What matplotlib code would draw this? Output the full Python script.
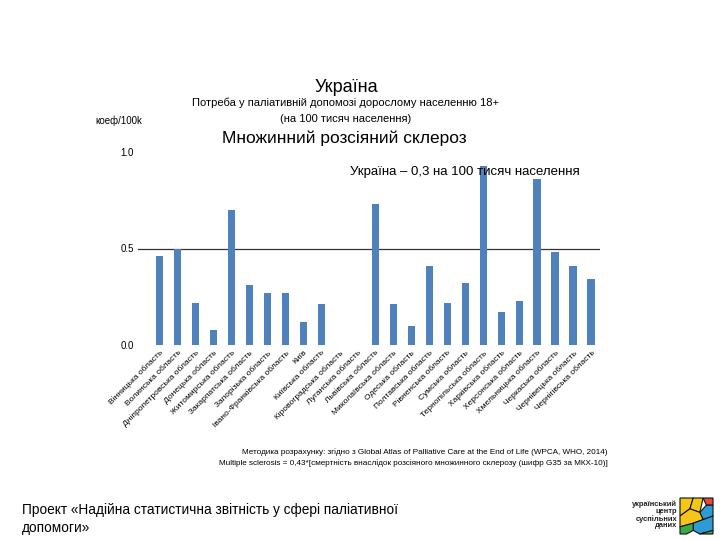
import numpy as np
import matplotlib.pyplot as plt
from matplotlib.patches import Polygon

plt.rcParams['font.family'] = ['Liberation Sans', 'DejaVu Sans']

regions = ['Вінницька область', 'Волинська область', 'Дніпропетровська область',
           'Донецька область', 'Житомирська область', 'Закарпатська область',
           'Запорізька область', 'Івано-Франківська область', 'Київ',
           'Київська область', 'Кіровоградська область', 'Луганська область',
           'Львівська область', 'Миколаївська область', 'Одеська область',
           'Полтавська область', 'Рівненська область', 'Сумська область',
           'Тернопільська область', 'Харківська область', 'Херсонська область',
           'Хмельницька область', 'Черкаська область', 'Чернівецька область',
           'Чернігівська область']
values = [0.46, 0.50, 0.22, 0.08, 0.70, 0.31, 0.27, 0.27, 0.12, 0.21,
          0.0, 0.0, 0.73, 0.21, 0.10, 0.41, 0.22, 0.32, 0.93, 0.17,
          0.23, 0.86, 0.48, 0.41, 0.34]
yticks = [0.0, 0.5, 1.0]
ytick_labels = ['0.0', '0.5', '1.0']

fig = plt.figure(figsize=(7.2, 5.4), dpi=100)
ax = fig.add_axes([138 / 720, 1 - 345 / 540, 462 / 720, 193 / 540])

x = np.arange(len(regions))
ax.bar(x, values, width=0.4, color='#4F81BD')
ax.axhline(0.5, color='#333333', lw=0.9, zorder=0)

ax.set_xlim(-1.2, 24.5)
ax.set_ylim(0, 1.0)
ax.set_yticks(yticks)
ax.set_yticklabels(ytick_labels, fontsize=7)
ax.set_xticks(x)
ax.set_xticklabels(regions, rotation=45, ha='right', rotation_mode='anchor', fontsize=6)
ax.tick_params(length=0, pad=3)
for s in ax.spines.values():
    s.set_visible(False)

# titles
fig.text(346 / 720, 1 - 88 / 540, 'Україна', ha='center', va='center', fontsize=13)
fig.text(346 / 720, 1 - 103 / 540, 'Потреба у паліативній допомозі дорослому населенню 18+',
         ha='center', va='center', fontsize=8)
fig.text(346 / 720, 1 - 119 / 540, '(на 100 тисяч населення)', ha='center', va='center', fontsize=8)
fig.text(344 / 720, 1 - 138 / 540, 'Множинний розсіяний склероз', ha='center', va='center', fontsize=12.5)
fig.text(350 / 720, 1 - 172 / 540, 'Україна – 0,3 на 100 тисяч населення', ha='left', va='center', fontsize=9.5)
fig.text(95 / 720, 1 - 121 / 540, 'коеф/100k', ha='left', va='center', fontsize=7)

# footnote
fig.text(608 / 720, 1 - 452 / 540,
         'Методика розрахунку: згідно з Global Atlas of Palliative Care at the End of Life (WPCA, WHO, 2014)',
         ha='right', va='center', fontsize=5.9)
fig.text(608 / 720, 1 - 463 / 540,
         'Multiple sclerosis = 0,43*[смертність внаслідок розсіяного множинного склерозу (шифр G35 за МКХ-10)]',
         ha='right', va='center', fontsize=5.9)

fig.text(22 / 720, 1 - 510 / 540, 'Проект «Надійна статистична звітність у сфері паліативної',
         ha='left', va='center', fontsize=9.8)
fig.text(22 / 720, 1 - 528 / 540, 'допомоги»', ha='left', va='center', fontsize=9.8)

# logo
for i, t in enumerate(['український', 'центр', 'суспільних', 'даних']):
    fig.text(677 / 720, 1 - (504 + i * 7.3) / 540, t, ha='right', va='center',
             fontsize=5.4, fontweight='bold', color='#222222')
lax = fig.add_axes([680 / 720, 1 - 534 / 540, 33 / 720, 36 / 540])
lax.set_xlim(0, 10)
lax.set_ylim(0, 10)
lax.axis('off')
pieces = [
    ([(0, 5), (3, 7), (4, 10), (0, 10)], '#F5C518'),
    ([(3, 7), (6, 6), (7, 10), (4, 10)], '#F5C518'),
    ([(7, 10), (8, 8), (10, 8), (10, 10)], '#E04B3A'),
    ([(6, 6), (8, 8), (10, 8), (10, 5), (7, 4)], '#2E9BD6'),
    ([(0, 5), (3, 7), (6, 6), (7, 4), (4, 3), (0, 2)], '#F5C518'),
    ([(4, 3), (7, 4), (10, 5), (10, 1), (6, 0), (4, 1)], '#2E9BD6'),
    ([(0, 2), (4, 3), (4, 1), (2, 0), (0, 0)], '#3AAA4A'),
    ([(6, 0), (10, 1), (10, 0)], '#3AAA4A'),
]
for pts, c in pieces:
    lax.add_patch(Polygon(pts, closed=True, facecolor=c, edgecolor='#111111', lw=0.8,
                          clip_on=False))

fig.savefig('out.png', dpi=100)
